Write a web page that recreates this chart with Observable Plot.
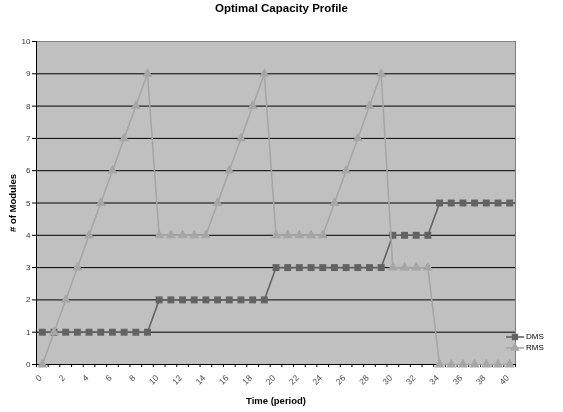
<!DOCTYPE html>
<html>
<head>
<meta charset="utf-8">
<script src="https://cdn.jsdelivr.net/npm/d3@7"></script>
<script src="https://cdn.jsdelivr.net/npm/@observablehq/plot@0.6"></script>
<style>
  html, body { margin: 0; padding: 0; background: #fff; }
  #wrap { position: relative; width: 563px; height: 412px; font-family: "Liberation Sans", Arial, sans-serif; }
  #title { position: absolute; left: 0; top: 1px; width: 563px; text-align: center; font-weight: bold; font-size: 11.5px; line-height: 14px; color: #000; }
  #chart { position: absolute; left: 0; top: 0; will-change: transform; }
  #legend { position: absolute; left: 505px; top: 331px; font-size: 8px; color: #000; line-height: 11px; }
  #legend .row { display: flex; align-items: center; height: 11px; }
  #legend svg { display: block; margin-right: 1px; }
</style>
</head>
<body>
<div id="wrap">
  <div id="chart"></div>
  <div id="title">Optimal Capacity Profile</div>
  <div id="legend"></div>
</div>
<script>
// Data
const periods = [0,1,2,3,4,5,6,7,8,9,10,11,12,13,14,15,16,17,18,19,20,21,22,23,24,25,26,27,28,29,30,31,32,33,34,35,36,37,38,39,40];
const dms = [1,1,1,1,1,1,1,1,1,1, 2,2,2,2,2,2,2,2,2,2, 3,3,3,3,3,3,3,3,3,3, 4,4,4,4, 5,5,5,5,5,5,5];
const rms = [0,1,2,3,4,5,6,7,8,9, 4,4,4,4,4,5,6,7,8,9, 4,4,4,4,4,5,6,7,8,9, 3,3,3,3, 0,0,0,0,0,0,0];
const xTickLabels = [0,2,4,6,8,10,12,14,16,18,20,22,24,26,28,30,32,34,36,38,40];
const yTickLabels = [0,1,2,3,4,5,6,7,8,9,10];
const gridValues = [1,2,3,4,5,6,7,8,9];
const seriesNames = ["DMS", "RMS"];

const data = periods.map((t, i) => ({t, dms: dms[i], rms: rms[i]}));
const catBoundaries = [-0.5].concat(periods.map(t => t + 0.5));

const dmsColor = "#626262";
const rmsColor = "#a6a6a6";
const font = "'Liberation Sans', Arial, sans-serif";

const chart = Plot.plot({
  width: 563,
  height: 412,
  marginTop: 41,
  marginBottom: 48,
  marginLeft: 36,
  marginRight: 48,
  style: {fontFamily: font, background: "transparent", overflow: "visible"},
  x: {domain: [-0.5, 40.5]},
  y: {domain: [0, 10]},
  marks: [
    Plot.frame({fill: "#c0c0c0", stroke: "#808080"}),
    Plot.ruleY(gridValues, {stroke: "#000", strokeWidth: 1}),
    Plot.ruleY([0], {stroke: "#000", strokeWidth: 1}),
    Plot.ruleX([-0.5], {stroke: "#000", strokeWidth: 1}),
    Plot.axisX({ticks: catBoundaries, tickSize: 3, tickFormat: () => "", label: null, stroke: "#000"}),
    Plot.axisX({ticks: xTickLabels, tickSize: 0, tickPadding: 12, dx: -2, tickRotate: -45, fontSize: 8.5, fill: "#444", fillOpacity: 0.99, label: null}),
    Plot.axisY({ticks: yTickLabels, tickSize: 4, tickPadding: 2, fontSize: 8, fill: "#333", stroke: "#000", label: null}),
    Plot.text(["Time (period)"], {frameAnchor: "bottom", dy: 36, lineAnchor: "middle", fontWeight: "bold", fontSize: 9.5, fill: "#000"}),
    Plot.text(["# of Modules"], {frameAnchor: "left", dx: -24, rotate: -90, lineAnchor: "middle", textAnchor: "middle", fontWeight: "bold", fontSize: 9.5, fill: "#000"}),
    Plot.line(data, {x: "t", y: "dms", stroke: dmsColor, strokeWidth: 1.6}),
    Plot.dot(data, {x: "t", y: "dms", symbol: "square", r: 3.9, fill: dmsColor, stroke: "none"}),
    Plot.line(data, {x: "t", y: "rms", stroke: rmsColor, strokeWidth: 1.6}),
    Plot.dot(data, {x: "t", y: "rms", symbol: "triangle", r: 3.7, fill: rmsColor, stroke: "none"})
  ]
});
document.getElementById("chart").appendChild(chart);

// Legend
const legend = document.getElementById("legend");
const symbols = {DMS: "square", RMS: "triangle"};
const colors = {DMS: dmsColor, RMS: rmsColor};
seriesNames.forEach(name => {
  const row = document.createElement("div");
  row.className = "row";
  const svg = d3.create("svg").attr("width", 20).attr("height", 10);
  svg.append("line").attr("x1", 1).attr("x2", 19).attr("y1", 5).attr("y2", 5)
    .attr("stroke", colors[name]).attr("stroke-width", 1.6);
  svg.append("path").attr("transform", "translate(10,5)")
    .attr("d", d3.symbol(symbols[name] === "square" ? d3.symbolSquare : d3.symbolTriangle, 40)())
    .attr("fill", colors[name]);
  row.appendChild(svg.node());
  const span = document.createElement("span");
  span.textContent = name;
  row.appendChild(span);
  legend.appendChild(row);
});
</script>
</body>
</html>
